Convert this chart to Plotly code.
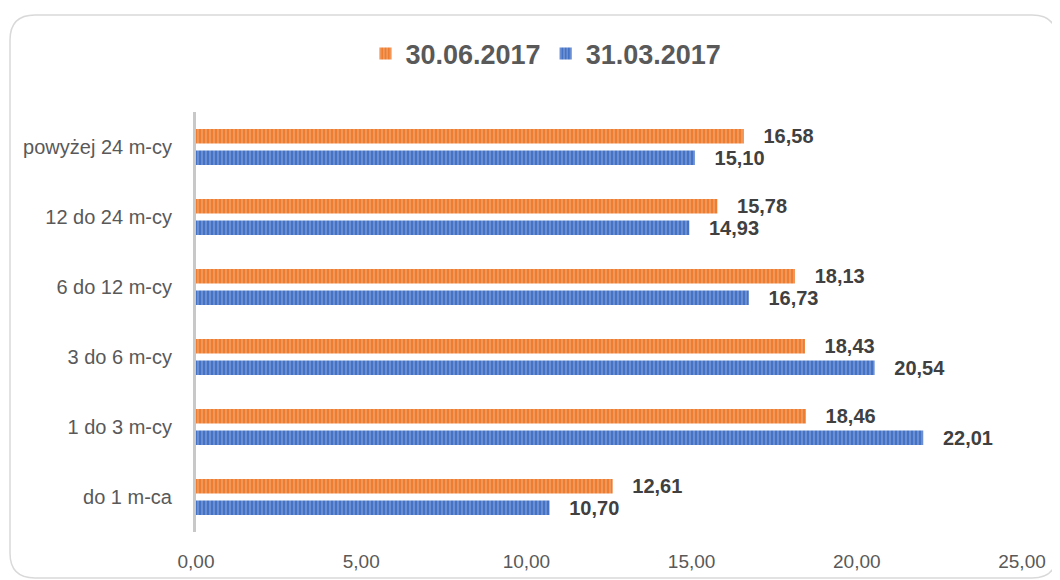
import plotly.graph_objects as go

categories = ["do 1 m-ca", "1 do 3 m-cy", "3 do 6 m-cy", "6 do 12 m-cy", "12 do 24 m-cy", "powyżej 24 m-cy"]
series_mar = [10.70, 22.01, 20.54, 16.73, 14.93, 15.10]   # 31.03.2017
series_jun = [12.61, 18.46, 18.43, 18.13, 15.78, 16.58]   # 30.06.2017
name_mar = "31.03.2017"
name_jun = "30.06.2017"
x_ticks = [0, 5, 10, 15, 20, 25]

OFF = 8  # page body margin
W, H = 1060 - OFF, 580 - OFF
L, R, T, B = 196 - OFF, 38, 112 - OFF, 48
PW, PH = W - L - R, H - T - B

ORANGE = "#ED7D31"
BLUE = "#4472C4"
LABEL_FONT = dict(family="Liberation Sans, Arial, sans-serif", size=20, color="#404040", weight="bold")

fig = go.Figure()
fig.add_trace(go.Bar(
    y=categories, x=series_mar, name=name_mar, orientation="h",
    marker=dict(color=BLUE, line=dict(width=0),
                pattern=dict(shape="|", size=4, solidity=0.4, fgcolor="#A4BBE6", bgcolor=BLUE)),
    texttemplate="\u00a0\u00a0\u00a0%{x:.2f}", textposition="outside", textfont=LABEL_FONT,
    constraintext="none", cliponaxis=False, legendrank=2,
))
fig.add_trace(go.Bar(
    y=categories, x=series_jun, name=name_jun, orientation="h",
    marker=dict(color=ORANGE, line=dict(width=0),
                pattern=dict(shape="|", size=4, solidity=0.4, fgcolor="#F7BE96", bgcolor=ORANGE)),
    texttemplate="\u00a0\u00a0\u00a0%{x:.2f}", textposition="outside", textfont=LABEL_FONT,
    constraintext="none", cliponaxis=False, legendrank=1,
))

def px(x):
    return (x - OFF - L) / PW

def py(y):
    return (H - B - (y - OFF)) / PH

x0, y0, x1, y1, r = 10, 15, 1057, 578, 25
path = (
    f"M {px(x0 + r)},{py(y0)} L {px(x1 - r)},{py(y0)} Q {px(x1)},{py(y0)} {px(x1)},{py(y0 + r)} "
    f"L {px(x1)},{py(y1 - r)} Q {px(x1)},{py(y1)} {px(x1 - r)},{py(y1)} "
    f"L {px(x0 + r)},{py(y1)} Q {px(x0)},{py(y1)} {px(x0)},{py(y1 - r)} "
    f"L {px(x0)},{py(y0 + r)} Q {px(x0)},{py(y0)} {px(x0 + r)},{py(y0)} Z"
)

fig.update_layout(
    width=W, height=H,
    margin=dict(l=L, r=R, t=T, b=B, autoexpand=False),
    paper_bgcolor="white", plot_bgcolor="white",
    barmode="group", bargap=0.386, bargroupgap=0.326,
    separators=", ",
    showlegend=True,
    legend=dict(orientation="h", x=px(546), xanchor="center", y=py(54), yanchor="middle",
                font=dict(family="Liberation Sans, Arial, sans-serif", size=27, color="#595959", weight="bold"),
                itemwidth=30, bgcolor="rgba(0,0,0,0)"),
    xaxis=dict(range=[0, 25], tickvals=x_ticks, tickformat=".2f", showgrid=False, zeroline=False,
               showline=False, ticks="", ticklabelstandoff=16,
               tickfont=dict(family="Liberation Sans, Arial, sans-serif", size=19, color="#595959")),
    yaxis=dict(showgrid=False, zeroline=False, showline=True, linecolor="#C8C8C8", linewidth=3,
               ticks="", ticklabelstandoff=17,
               tickfont=dict(family="Liberation Sans, Arial, sans-serif", size=20, color="#595959")),
    shapes=[dict(type="path", xref="paper", yref="paper", path=path,
                 line=dict(color="#D9D9D9", width=1.5), fillcolor="rgba(0,0,0,0)", layer="below")],
)

fig.write_html("out.html")
